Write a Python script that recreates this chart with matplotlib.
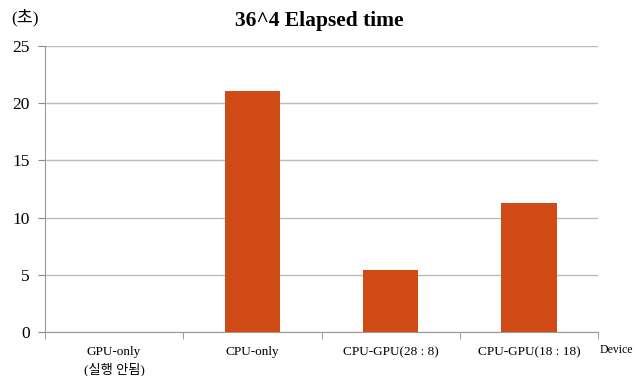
import numpy as np
import matplotlib.pyplot as plt

# data
devices = ['GPU-only\n(실행 안됨)', 'CPU-only', 'CPU-GPU(28 : 8)', 'CPU-GPU(18 : 18)']
elapsed = [0.0, 21.1, 5.4, 11.3]

plt.rcParams['font.family'] = ['Liberation Serif', 'Noto Sans CJK KR']

fig = plt.figure(figsize=(6.38, 3.76), dpi=100)
ax = fig.add_axes([0.0705, 0.117, 0.867, 0.761])

x = np.arange(len(devices))
ax.bar(x, elapsed, width=0.4, color='#D04A16', zorder=3)

ax.set_xlim(-0.5, len(devices) - 0.5)
ax.set_ylim(0, 25)
ax.set_yticks([0, 5, 10, 15, 20, 25])
ax.tick_params(axis='y', labelsize=12.5, length=5, color='#888888', pad=6)
ax.set_xticks(x)
ax.set_xticklabels(devices, fontsize=9.5, linespacing=1.4)
ax.tick_params(axis='x', length=0, pad=10)
# category boundary ticks
ax.set_xticks(np.arange(-0.5, len(devices)), minor=True)
ax.tick_params(axis='x', which='minor', length=5, color='#888888')

ax.grid(axis='y', color='#BBBBBB', linewidth=1, zorder=0)
for s in ['top', 'right']:
    ax.spines[s].set_visible(False)
ax.spines['left'].set_color('#999999')
ax.spines['bottom'].set_color('#999999')

fig.text(0.5, 0.945, '36^4 Elapsed time', ha='center', va='center',
         fontsize=15.5, fontweight='bold')
fig.text(0.018, 0.952, '(초)', ha='left', va='center', fontsize=12.5)
fig.text(0.94, 0.069, 'Device', ha='left', va='center', fontsize=8.5)

fig.savefig('out.png', dpi=100)
